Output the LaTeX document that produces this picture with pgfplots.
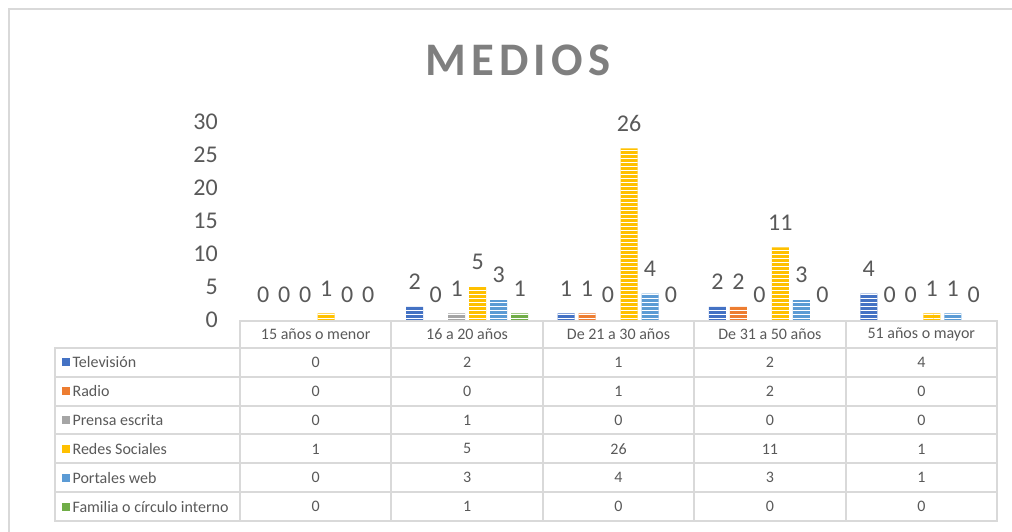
\documentclass[border=0pt]{standalone}
\usepackage{pgfplots}
\pgfplotsset{compat=1.18}
\usepackage{fontspec}
\setmainfont{Carlito}
\usetikzlibrary{patterns}
\definecolor{cTV}{HTML}{4472C4}
\definecolor{cRA}{HTML}{ED7D31}
\definecolor{cPR}{HTML}{A5A5A5}
\definecolor{cRS}{HTML}{FFC000}
\definecolor{cPW}{HTML}{5B9BD5}
\definecolor{cFA}{HTML}{70AD47}
\definecolor{gridc}{HTML}{D9D9D9}
\definecolor{txtc}{HTML}{595959}
\definecolor{titlec}{HTML}{7F7F7F}
\tikzset{stripes/.style={postaction={pattern=horizontal lines, pattern color=white, fill opacity=0.28}}}
\begin{document}
\begin{tikzpicture}[x=0.75pt,y=-0.75pt]
\draw[gridc, line width=2pt] (1040,9) -- (9,9) -- (9,560);
\node[text=titlec, font=\fontsize{35}{40}\selectfont\bfseries\addfontfeature{LetterSpace=11}] at (518,60) {MEDIOS};
\begin{axis}[
  at={(180pt,-240pt)}, anchor=south west,
  scale only axis, width=567.75pt, height=148.5pt,
  xmin=-0.5, xmax=4.5, ymin=0, ymax=30,
  ybar=3pt, bar width=12.75pt,
  axis line style={draw=none},
  xtick=\empty, ytick={0,5,...,30},
  major tick length=0pt,
  /pgf/number format/assume math mode=true,
  yticklabel style={anchor=east, inner sep=0pt, xshift=-16.5pt, text=txtc, font=\fontsize{18}{18}\selectfont},
  nodes near coords,
  nodes near coords style={anchor=center, yshift=18.75pt, text=txtc, font=\fontsize{18}{18}\selectfont},
  clip=false,
]
\addplot[fill=cTV, draw=none, stripes] coordinates {(0,0) (1,2) (2,1) (3,2) (4,4)};
\addplot[fill=cRA, draw=none, stripes] coordinates {(0,0) (1,0) (2,1) (3,2) (4,0)};
\addplot[fill=cPR, draw=none, stripes] coordinates {(0,0) (1,1) (2,0) (3,0) (4,0)};
\addplot[fill=cRS, draw=none, stripes] coordinates {(0,1) (1,5) (2,26) (3,11) (4,1)};
\addplot[fill=cPW, draw=none, stripes] coordinates {(0,0) (1,3) (2,4) (3,3) (4,1)};
\addplot[fill=cFA, draw=none, stripes] coordinates {(0,0) (1,1) (2,0) (3,0) (4,0)};
\end{axis}
% data table
\begin{scope}[gridc, line width=1.5pt]
\draw (240,321) rectangle (997,348);
\draw (55,348) rectangle (997,521);
\foreach \k in {1,...,5} { \draw (55,{348+\k*28.83}) -- (997,{348+\k*28.83}); }
\foreach \j in {0,...,4} { \draw ({240+151.4*\j},321) -- ({240+151.4*\j},521); }
\end{scope}
\foreach \h [count=\j from 0] in {15 años o menor,16 a 20 años,De 21 a 30 años,De 31 a 50 años,51 años o mayor} {
  \node[text=txtc, font=\fontsize{12}{14}\selectfont] at ({315.7+151.4*\j},334.5) {\h};
}
\foreach \lab/\col [count=\i from 0] in {Televisión/cTV, Radio/cRA, Prensa escrita/cPR, Redes Sociales/cRS, Portales web/cPW, Familia o círculo interno/cFA} {
  \fill[\col] (62,{348+(\i+0.5)*28.83-4}) rectangle ++(8,8);
  \node[anchor=west, inner sep=1pt, text=txtc, font=\fontsize{12}{14}\selectfont] at (71,{348+(\i+0.5)*28.83}) {\lab};
}
\foreach \vals [count=\i from 0] in {{0,2,1,2,4},{0,0,1,2,0},{0,1,0,0,0},{1,5,26,11,1},{0,3,4,3,1},{0,1,0,0,0}} {
  \foreach \v [count=\j from 0] in \vals {
    \node[text=txtc, font=\fontsize{12}{14}\selectfont] at ({315.7+151.4*\j},{348+(\i+0.5)*28.83}) {\v};
  }
}
\pgfresetboundingbox
\path[use as bounding box] (0,0) rectangle (1012,531);
\end{tikzpicture}
\end{document}
